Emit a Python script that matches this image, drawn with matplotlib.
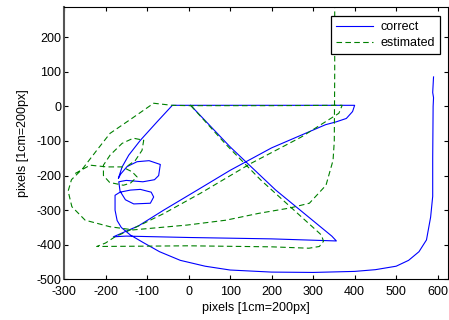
import numpy as np
import matplotlib
matplotlib.use("Agg")
import matplotlib.pyplot as plt

plt.rcParams['font.family'] = ['Liberation Sans', 'DejaVu Sans']
plt.rcParams['axes.unicode_minus'] = False

# correct trajectory (blue)
correct_x = [590, 588, 590, 589, 588, 588, 583, 573, 555, 530, 500, 450, 400, 300, 200, 100,
             40, -20, -70, -110, -140, -162, -172, -177, -177, -165, -140, -116, -90, -84,
             -92, -132, -152, -165, -168, -150, -110, -82, -72, -68, -95, -124, -148, -163,
             -169, -160, -144, -116, -76, -39, -10, 100, 300, 400, 395, 380, 355, 330, 200,
             100, 21, -60, -120, -181, -150, 0, 200, 356, 345, 210, 100, 5]
correct_y = [85, 40, 25, 0, -150, -260, -320, -386, -420, -445, -462, -472, -477, -480, -479, -473,
             -462, -445, -420, -393, -372, -350, -330, -300, -257, -248, -242, -240, -248, -262,
             -280, -282, -270, -245, -218, -214, -218, -212, -200, -168, -157, -160, -174, -195,
             -208, -175, -141, -98, -45, 3, 3, 3, 3, 3, -15, -35, -45, -53, -120,
             -185, -242, -300, -345, -377, -375, -379, -383, -389, -375, -242, -117, 3]

# estimated trajectory (green), NaN splits separate pieces
estimated_x = [352, 352, 351, 348, 331, 291, 243, 170, 90, -3, -133, -189, -249, -281, -290,
               -282, -255, -221, -189, -133, -84, -40, 0, 200, 370, 362, 345, 271, 150, 29,
               -60, -140, -177, -200, -221, -100, 0, 200, 290, 315, 325, 320, 311, 174, 90, 5,
               np.nan,
               -273, -237, -197, -160, -136, -124, -140, -157, -190, -205, -205, -189, -160,
               -133, -108, -112, -128, -150]
estimated_y = [300, 100, -100, -156, -228, -280, -294, -309, -329, -343, -357, -348, -329, -290, -245,
               -212, -180, -127, -78, -32, 9, 3, 2, 2, 3, -20, -33, -89, -165, -251,
               -310, -357, -377, -395, -405, -404, -403, -406, -410, -405, -390, -372, -362, -213, -110, 3,
               np.nan,
               -194, -170, -175, -175, -189, -204, -222, -228, -220, -200, -170, -141, -107,
               -92, -98, -127, -156, -175]

fig = plt.figure(figsize=(4.49, 3.2), dpi=100)
ax = fig.add_axes([0.1425, 0.127, 0.8545, 0.851])

ax.plot(correct_x, correct_y, color='b', linewidth=0.8, label='correct')
ax.plot(estimated_x, estimated_y, color='#008000', linewidth=0.8, linestyle=(0, (5, 3)), label='estimated')

ax.set_xlim(-300, 624)
ax.set_ylim(-500, 287)
ax.set_xticks(np.arange(-300, 601, 100))
ax.set_yticks(np.arange(-500, 201, 100))
ax.tick_params(direction='in', top=True, right=True, labelsize=9, length=3, width=0.8)
ax.tick_params(axis='x', pad=5)
ax.tick_params(axis='y', pad=2)
for s in ax.spines.values():
    s.set_linewidth(0.8)
ax.spines['left'].set_color('#555555')
ax.spines['left'].set_linewidth(1.5)

ax.set_xlabel('pixels [1cm=200px]', fontsize=9, labelpad=3)
ax.set_ylabel('pixels [1cm=200px]', fontsize=9, labelpad=5)

leg = ax.legend(loc='upper right', bbox_to_anchor=(0.997, 0.99), fontsize=9, handlelength=3.0,
                fancybox=False, framealpha=1, edgecolor='black', borderpad=0.4,
                labelspacing=0.35, handletextpad=0.6)
leg.get_frame().set_linewidth(0.9)

fig.savefig('out.png', dpi=100)
